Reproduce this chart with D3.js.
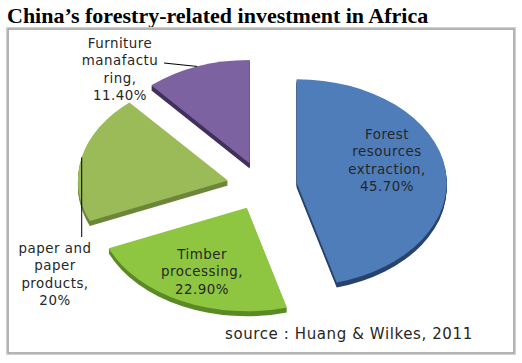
<!DOCTYPE html>
<html>
<head>
<meta charset="utf-8">
<script src="https://cdn.jsdelivr.net/npm/d3@7"></script>
<style>
  body { margin: 0; background: #fff; }
  .lbl { font-family: "DejaVu Sans", sans-serif; font-size: 13.4px; letter-spacing: 0.5px; fill: #262626; }
</style>
</head>
<body>
<div id="chart"></div>
<script>

// data
var categories = ["Forest resources extraction", "Timber processing", "paper and paper products", "Furniture manafacturing"];
var values = [45.7, 22.9, 20, 11.4];
var valueLabels = ["45.70%", "22.90%", "20%", "11.40%"];
var labelLines = [
    ["Forest", "resources", "extraction,", "45.70%"],
    ["Timber", "processing,", "22.90%"],
    ["paper and", "paper", "products,", "20%"],
    ["Furniture", "manafactu", "ring,", "11.40%"]
];
var title = "China\u2019s forestry-related investment in Africa";
var source = "source : Huang & Wilkes, 2011";

var colors = ["#4f7dba", "#8ec641", "#9bbb59", "#7c62a1"];
var sideColors = ["#28436e", "#5c8a26", "#6c873a", "#41305c"];

var width = 522, height = 363;

var svg = d3.select("#chart").append("svg")
    .attr("width", width)
    .attr("height", height);

// title
svg.append("text")
    .attr("x", 7)
    .attr("y", 23)
    .style("font-family", "'Liberation Serif', serif")
    .style("font-weight", "bold")
    .style("font-size", "22px")
    .text(title);

// chart frame
svg.append("rect")
    .attr("x", 6.5).attr("y", 27.5)
    .attr("width", 509).attr("height", 327)
    .attr("fill", "none")
    .attr("stroke", "#d0d0d0")
    .attr("stroke-width", 1);
svg.append("rect")
    .attr("x", 8).attr("y", 29)
    .attr("width", 506).attr("height", 324)
    .attr("fill", "#fff")
    .attr("stroke", "#9c9c9c")
    .attr("stroke-width", 1.5);

// pie geometry (tilted -> ellipse)
var cx = 262, cy = 186;
var radius = 150, tilt = 0.69, explode = 35, depth = 5;

var pie = d3.pie().sort(null).value(function(d) { return d; });
var arcs = pie(values);

var arc = d3.arc().innerRadius(0).outerRadius(radius);

// point on the tilted plane for angle (radians, clockwise from 12 o'clock) and radius
function planePoint(a, r) {
    return [r * Math.sin(a), -r * Math.cos(a) * tilt];
}
function midAngle(d) { return (d.startAngle + d.endAngle) / 2; }
function offset(d) { return planePoint(midAngle(d), explode); }

// sides (extrusion) first, then the tops
for (var k = depth; k >= 1; k--) {
    svg.append("g").selectAll("path.side" + k)
        .data(arcs)
        .enter().append("path")
        .attr("transform", function(d) {
            var o = offset(d);
            return "translate(" + (cx + o[0]) + "," + (cy + o[1] + k) + ") scale(1," + tilt + ")";
        })
        .attr("d", arc)
        .attr("fill", function(d, i) { return sideColors[i]; });
}

svg.append("g").selectAll("path.top")
    .data(arcs)
    .enter().append("path")
    .attr("class", "top")
    .attr("transform", function(d) {
        var o = offset(d);
        return "translate(" + (cx + o[0]) + "," + (cy + o[1]) + ") scale(1," + tilt + ")";
    })
    .attr("d", arc)
    .attr("fill", function(d, i) { return colors[i]; });

// label placement: inside labels on the slice, outside ones with leader lines
// [angle offset deg from mid, radius] relative to the exploded slice
var labelPlace = [
    {angle: -12, r: 96, inside: true},
    {angle: 0, r: 103, inside: true},
    {angle: 0, r: 0, inside: false, x: 55, y: 248},
    {angle: 0, r: 0, inside: false, x: 120, y: 43}
];
var lineH = 17.6;

arcs.forEach(function(d, i) {
    var p = labelPlace[i];
    var o = offset(d);
    var lx, ly;
    var lines = labelLines[i];
    if (p.inside) {
        var q = planePoint(midAngle(d) + p.angle * Math.PI / 180, p.r);
        lx = cx + o[0] + q[0];
        ly = cy + o[1] + q[1] - (lines.length - 1) * lineH / 2;
    } else {
        lx = p.x;
        ly = p.y;
    }
    var t = svg.append("text")
        .attr("class", "lbl")
        .attr("text-anchor", "middle")
        .attr("x", lx)
        .attr("y", ly)
        .attr("dy", "0.35em");
    lines.forEach(function(s, j) {
        t.append("tspan").attr("x", lx).attr("y", ly + j * lineH).attr("dy", "0.35em").text(s);
    });
});

// leader lines from the outer arc (mid angle) to the outside labels
var paper = arcs[2], furn = arcs[3];
var pp = planePoint(midAngle(paper), radius), po = offset(paper);
var px = cx + po[0] + pp[0], py = cy + po[1] + pp[1];
svg.append("path")
    .attr("d", "M" + px + "," + py + "V" + 237)
    .attr("stroke", "#000").attr("stroke-width", 1).attr("fill", "none");

var fp = planePoint(midAngle(furn), radius), fo = offset(furn);
var fx = cx + fo[0] + fp[0], fy = cy + fo[1] + fp[1];
svg.append("path")
    .attr("d", "M" + fx + "," + fy + "L" + 164 + "," + 63)
    .attr("stroke", "#000").attr("stroke-width", 1).attr("fill", "none");

// source note
svg.append("text")
    .attr("class", "lbl")
    .attr("x", 225)
    .attr("y", 339)
    .style("font-size", "15px")
    .style("letter-spacing", "0.6px")
    .text(source);

</script>
</body>
</html>
